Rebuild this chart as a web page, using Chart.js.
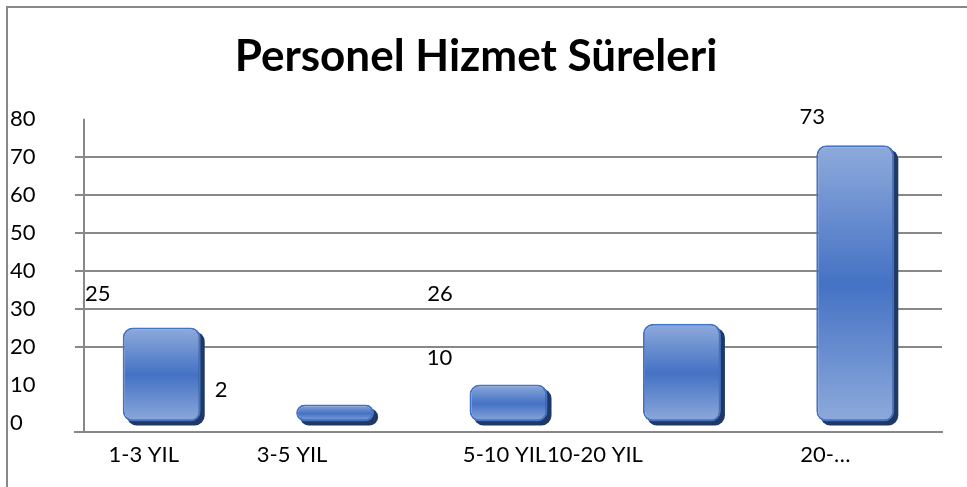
<!DOCTYPE html>
<html>
<head>
<meta charset="utf-8">
<script src="https://cdn.jsdelivr.net/npm/chart.js@4/dist/chart.umd.min.js"></script>
<style>
    html, body { margin: 0; padding: 0; background: #fff; overflow: hidden; }
    #frame {
        position: absolute; left: 6px; top: 6px; width: 1100px; height: 600px;
        border-left: 2px solid #888; border-top: 2px solid #888;
    }
    #wrap { position: absolute; left: 0; top: 0; width: 945px; height: 487px; }
</style>
</head>
<body>
<div id="frame"></div>
<div id="wrap"><canvas id="serviceChart"></canvas></div>
<script>
// chart data
const categories = ['1-3 YIL', '3-5 YIL', '5-10 YIL', '10-20 YIL', '20-…'];
const staffCounts = [25, 2, 10, 26, 73];
const yTickValues = [0, 10, 20, 30, 40, 50, 60, 70, 80];

// the source picture has its labels shifted off the bars, keep that look
const valueLabelShift = [[-64, -34], [-114, -25], [-69, -27], [-242, -30], [-43, -28]];
const categoryLabelShift = [-18, -43, -4, -87, -30];

const GRID = '#888888';
const FONT = 'Lato, "Open Sans", sans-serif';

// gradient for each bar: light at the ends, deeper blue in the middle
function barGradient(context) {
    const chart = context.chart;
    const yScale = chart.scales.y;
    if (!chart.chartArea || !yScale || !context.parsed) {
        return '#4472c4';
    }
    const top = yScale.getPixelForValue(context.parsed.y);
    const bottom = yScale.getPixelForValue(0);
    if (!isFinite(top) || !isFinite(bottom)) {
        return '#4472c4';
    }
    const g = chart.ctx.createLinearGradient(0, Math.min(top, bottom - 18), 0, bottom);
    g.addColorStop(0, '#8eaadb');
    g.addColorStop(0.5, '#4472c4');
    g.addColorStop(1, '#8eaadb');
    return g;
}

// dark offset block behind every bar
const shadowPlugin = {
    id: 'barShadow',
    beforeDatasetsDraw(chart) {
        const ctx = chart.ctx;
        const meta = chart.getDatasetMeta(0);
        ctx.save();
        ctx.fillStyle = '#203864';
        meta.data.forEach(function(bar) {
            const p = bar.getProps(['x', 'y', 'base', 'width'], true);
            const top = Math.min(p.y, p.base);
            const h = Math.abs(p.base - p.y);
            ctx.beginPath();
            ctx.roundRect(p.x - p.width / 2 + 4, top + 4, p.width, h, 10);
            ctx.fill();
        });
        ctx.restore();
    }
};

const axisLinePlugin = {
    id: 'axisLine',
    afterDraw(chart) {
        const ctx = chart.ctx;
        const area = chart.chartArea;
        const x = area.left + 9;
        ctx.save();
        ctx.strokeStyle = GRID;
        ctx.lineWidth = 2;
        ctx.beginPath();
        ctx.moveTo(x, chart.scales.y.getPixelForValue(80));
        ctx.lineTo(x, area.bottom);
        ctx.stroke();
        ctx.restore();
    }
};

const labelsPlugin = {
    id: 'oddLabels',
    afterDraw(chart) {
        const ctx = chart.ctx;
        const xScale = chart.scales.x;
        const yScale = chart.scales.y;
        ctx.save();
        ctx.font = '22px ' + FONT;
        ctx.fillStyle = '#000';
        ctx.textAlign = 'center';
        ctx.textBaseline = 'middle';
        // value labels
        staffCounts.forEach(function(v, i) {
            const x = xScale.getPixelForValue(i) + valueLabelShift[i][0];
            const y = yScale.getPixelForValue(v) + valueLabelShift[i][1];
            ctx.fillText(String(v), x, y);
        });
        // category labels
        categories.forEach(function(c, i) {
            const x = xScale.getPixelForValue(i) + categoryLabelShift[i];
            ctx.fillText(c, x, chart.chartArea.bottom + 23);
        });
        ctx.restore();
    }
};

const ctx = document.getElementById('serviceChart').getContext('2d');

new Chart(ctx, {
    type: 'bar',
    data: {
        labels: categories,
        datasets: [{
            data: staffCounts,
            backgroundColor: barGradient,
            borderColor: '#4472c4',
            borderWidth: 2,
            borderRadius: 10,
            borderSkipped: false,
            minBarLength: 18,
            barPercentage: 0.9,
            categoryPercentage: 0.5
        }]
    },
    options: {
        responsive: true,
        maintainAspectRatio: false,
        animation: false,
        layout: {
            padding: { left: 10, right: 3, top: 0, bottom: 55 }
        },
        plugins: {
            legend: { display: false },
            tooltip: { enabled: false },
            title: {
                display: true,
                text: 'Personel Hizmet Süreleri',
                color: '#000',
                font: { family: FONT, size: 44, weight: 'bold' },
                padding: { top: 30, bottom: 36 }
            }
        },
        scales: {
            x: {
                type: 'category',
                ticks: { display: false },
                grid: { display: false },
                border: { display: true, color: GRID, width: 2 },
                afterFit: function(scale) {
                    scale.height = 0;
                }
            },
            y: {
                min: -2.5,
                max: 80,
                afterBuildTicks: function(scale) {
                    scale.ticks = yTickValues.map(v => ({ value: v }));
                },
                afterFit: function(scale) {
                    scale.width = 65;
                },
                ticks: {
                    color: '#000',
                    crossAlign: 'far',
                    padding: 0,
                    font: { family: FONT, size: 22 }
                },
                grid: {
                    drawTicks: false,
                    lineWidth: 2,
                    color: function(c) {
                        const v = c.tick ? c.tick.value : 0;
                        return (v >= 20 && v <= 70) ? GRID : 'rgba(0,0,0,0)';
                    }
                },
                border: { display: false }
            }
        }
    },
    plugins: [shadowPlugin, axisLinePlugin, labelsPlugin]
});
</script>
</body>
</html>
